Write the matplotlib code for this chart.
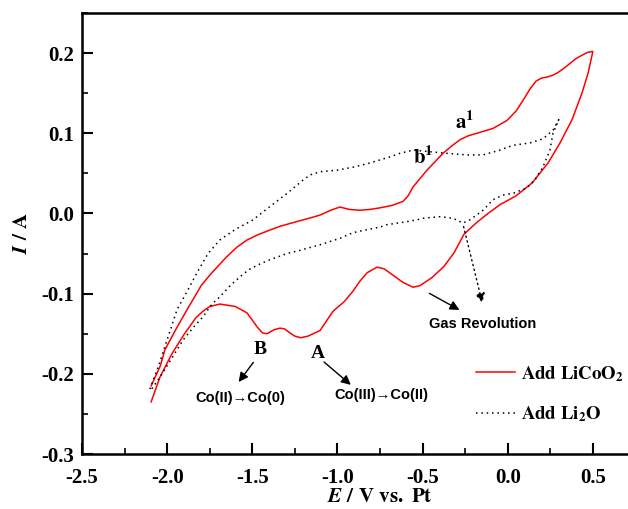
import matplotlib
matplotlib.use('Agg')
import matplotlib.pyplot as plt
import numpy as np
from matplotlib.ticker import MultipleLocator, FormatStrFormatter

plt.rcParams['font.family'] = ['Liberation Serif', 'DejaVu Serif']
plt.rcParams['font.weight'] = 'bold'
plt.rcParams['mathtext.fontset'] = 'stix'

# Add LiCoO2 - varredura anodica (ida) e catodica (volta)
licoo2_ida_v = [-2.094, -2.040, -2.013, -1.950, -1.883, -1.800, -1.750, -1.707, -1.650, -1.590,
                -1.530, -1.472, -1.400, -1.337, -1.270, -1.202, -1.150, -1.102, -1.040, -0.985,
                -0.930, -0.868, -0.810, -0.750, -0.680, -0.615, -0.585, -0.556, -0.474, -0.420,
                -0.380, -0.330, -0.280, -0.230, -0.181, -0.087, -0.004, 0.050, 0.090, 0.130,
                0.166, 0.200, 0.230, 0.260, 0.289, 0.330, 0.365, 0.400, 0.442, 0.470, 0.500]
licoo2_ida_i = [-0.215, -0.190, -0.170, -0.145, -0.120, -0.090, -0.077, -0.067, -0.054, -0.042,
                -0.033, -0.027, -0.021, -0.016, -0.012, -0.008, -0.005, -0.002, 0.004, 0.008,
                0.005, 0.004, 0.005, 0.007, 0.010, 0.015, 0.022, 0.033, 0.054, 0.066,
                0.075, 0.084, 0.092, 0.097, 0.100, 0.106, 0.116, 0.128, 0.141, 0.155,
                0.165, 0.169, 0.170, 0.172, 0.175, 0.181, 0.187, 0.193, 0.198, 0.201, 0.202]
licoo2_volta_v = [0.500, 0.472, 0.436, 0.378, 0.307, 0.237, 0.143, 0.049, -0.045, -0.116,
                  -0.186, -0.257, -0.315, -0.374, -0.445, -0.515, -0.556, -0.615, -0.680, -0.726,
                  -0.768, -0.826, -0.870, -0.909, -0.960, -1.026, -1.102, -1.173, -1.215, -1.250,
                  -1.279, -1.310, -1.337, -1.372, -1.414, -1.440, -1.470, -1.490, -1.531, -1.600,
                  -1.690, -1.750, -1.790, -1.831, -1.901, -1.972, -2.042, -2.094]
licoo2_volta_i = [0.202, 0.175, 0.150, 0.117, 0.088, 0.063, 0.038, 0.022, 0.011, 0.000,
                  -0.012, -0.026, -0.049, -0.066, -0.080, -0.090, -0.092, -0.086, -0.076, -0.069,
                  -0.067, -0.074, -0.085, -0.097, -0.110, -0.122, -0.146, -0.153, -0.155, -0.153,
                  -0.149, -0.144, -0.143, -0.145, -0.150, -0.149, -0.142, -0.136, -0.124, -0.116,
                  -0.113, -0.116, -0.122, -0.130, -0.151, -0.175, -0.204, -0.235]

# Add Li2O
li2o_ida_v = [-2.101, -2.050, -2.001, -1.942, -1.877, -1.825, -1.760, -1.690, -1.600, -1.496,
              -1.400, -1.296, -1.200, -1.161, -1.102, -1.000, -0.900, -0.809, -0.700, -0.633,
              -0.556, -0.457, -0.357, -0.239, -0.145, -0.046, 0.031, 0.131, 0.207, 0.266, 0.300]
li2o_ida_i = [-0.219, -0.190, -0.158, -0.120, -0.095, -0.074, -0.050, -0.033, -0.020, -0.008,
              0.008, 0.025, 0.042, 0.048, 0.052, 0.054, 0.058, 0.063, 0.070, 0.075,
              0.079, 0.077, 0.075, 0.073, 0.073, 0.079, 0.085, 0.088, 0.093, 0.104, 0.117]
li2o_volta_v = [0.300, 0.266, 0.248, 0.207, 0.160, 0.113, 0.031, -0.028, -0.087, -0.145,
                -0.222, -0.263, -0.321, -0.398, -0.498, -0.533, -0.615, -0.709, -0.750, -0.867,
                -0.909, -0.985, -1.102, -1.220, -1.296, -1.400, -1.455, -1.520, -1.572, -1.630,
                -1.690, -1.737, -1.790, -1.850, -1.907, -1.971, -2.042, -2.101]
li2o_volta_i = [0.117, 0.100, 0.079, 0.058, 0.042, 0.032, 0.025, 0.023, 0.017, 0.004,
                -0.008, -0.012, -0.006, -0.004, -0.006, -0.008, -0.011, -0.014, -0.017, -0.022,
                -0.024, -0.031, -0.039, -0.046, -0.050, -0.058, -0.063, -0.070, -0.079, -0.090,
                -0.104, -0.113, -0.129, -0.143, -0.158, -0.180, -0.204, -0.222]

fig = plt.figure(figsize=(6.28, 5.09), dpi=100)
# eixo maior que a figura: a imagem original foi cortada na direita
ax = fig.add_axes([82/628, 55/509, 596/628, 441/509])

ax.plot(licoo2_ida_v + licoo2_volta_v, licoo2_ida_i + licoo2_volta_i,
        color='red', linewidth=1.1, label=r'$\mathbf{Add\ LiCoO_2}$')
ax.plot(li2o_ida_v + li2o_volta_v, li2o_ida_i + li2o_volta_i,
        color='black', linewidth=1.1, linestyle=(0, (1, 2.5)), label=r'$\mathbf{Add\ Li_2O}$')

ax.set_xlim(-2.5, 1.0)
ax.set_ylim(-0.3, 0.25)
ax.xaxis.set_minor_locator(MultipleLocator(0.25))
ax.yaxis.set_major_locator(MultipleLocator(0.1))
ax.yaxis.set_minor_locator(MultipleLocator(0.05))
ax.set_xticks(np.arange(-2.5, 0.51, 0.5))
ax.xaxis.set_major_formatter(FormatStrFormatter('%.1f'))
ax.yaxis.set_major_formatter(FormatStrFormatter('%.1f'))
ax.tick_params(which='major', direction='in', length=8, width=1.5, labelsize=15)
ax.tick_params(which='minor', direction='in', length=4, width=1.2)
ax.tick_params(axis='x', which='major', pad=10)
ax.tick_params(axis='y', which='major', pad=6)
for lado in ['left', 'bottom', 'top', 'right']:
    ax.spines[lado].set_linewidth(1.8)

ax.set_xlabel(r'$\mathbfit{E}\ \mathbf{/\ V\ vs.\ Pt}$', fontsize=15, labelpad=0)
ax.set_ylabel(r'$\mathbfit{I}\ \mathbf{/\ A}$', fontsize=15, labelpad=6)

# rotulos dos picos
ax.text(-0.251, 0.113, r'$\mathbf{a}^{\mathbf{1}}$', fontsize=15, ha='center', va='center')
ax.text(-0.498, 0.070, r'$\mathbf{b}^{\mathbf{1}}$', fontsize=15, ha='center', va='center')

ax.annotate('', xy=(-1.590, -0.213), xytext=(-1.484, -0.183),
            arrowprops=dict(arrowstyle='-|>', color='black', lw=1, mutation_scale=14))
ax.text(-1.455, -0.170, 'B', fontsize=14, ha='center', va='center')
ax.annotate('', xy=(-0.909, -0.216), xytext=(-1.091, -0.183),
            arrowprops=dict(arrowstyle='-|>', color='black', lw=1, mutation_scale=14))
ax.text(-1.114, -0.175, 'A', fontsize=14, ha='center', va='center')

fonte_sans = ['Liberation Sans', 'DejaVu Sans']
ax.text(-1.572, -0.230, 'Co(II)→Co(0)', fontsize=10.5, ha='center', va='center', family=fonte_sans)
ax.text(-0.744, -0.226, 'Co(III)→Co(II)', fontsize=10.5, ha='center', va='center', family=fonte_sans)
ax.text(-0.145, -0.138, 'Gas Revolution', fontsize=10.5, ha='center', va='center', family=fonte_sans)

ax.annotate('', xy=(-0.269, -0.122), xytext=(-0.474, -0.098),
            arrowprops=dict(arrowstyle='-|>', color='black', lw=1, mutation_scale=14))
ax.annotate('', xy=(-0.145, -0.115), xytext=(-0.263, -0.013),
            arrowprops=dict(arrowstyle='-|>', color='black', lw=1, linestyle=(0, (1, 2.5)),
                            mutation_scale=14))

leg = ax.legend(loc='upper left', bbox_to_anchor=(476/628, 1 - 364/509),
                bbox_transform=fig.transFigure, frameon=False, fontsize=13.5,
                handlelength=2.1, handletextpad=0.3, labelspacing=1.1,
                borderpad=0, borderaxespad=0)

fig.savefig('out.png', dpi=100)
